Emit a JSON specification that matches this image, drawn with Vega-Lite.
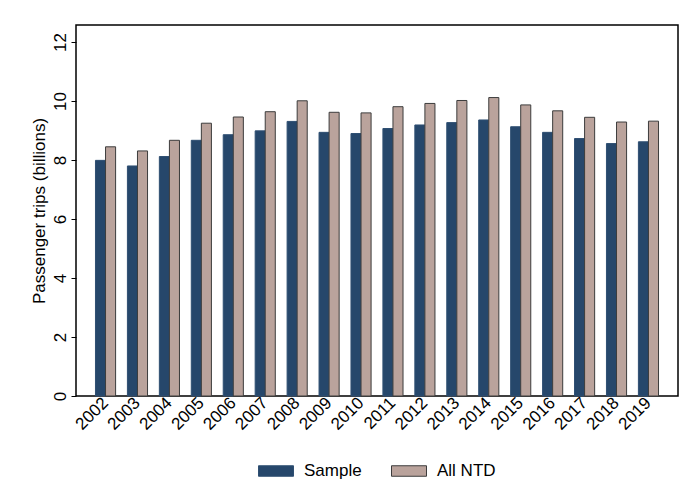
{
  "$schema": "https://vega.github.io/schema/vega-lite/v6.json",
  "width": 602,
  "height": 371,
  "autosize": "none",
  "padding": {"left": 76, "top": 25, "right": 5, "bottom": 108},
  "background": "white",
  "data": {
    "values": [
      {"year": "2002", "series": "Sample", "trips": 7.99},
      {"year": "2002", "series": "All NTD", "trips": 8.45},
      {"year": "2003", "series": "Sample", "trips": 7.80},
      {"year": "2003", "series": "All NTD", "trips": 8.31},
      {"year": "2004", "series": "Sample", "trips": 8.12},
      {"year": "2004", "series": "All NTD", "trips": 8.67},
      {"year": "2005", "series": "Sample", "trips": 8.67},
      {"year": "2005", "series": "All NTD", "trips": 9.25},
      {"year": "2006", "series": "Sample", "trips": 8.86},
      {"year": "2006", "series": "All NTD", "trips": 9.46},
      {"year": "2007", "series": "Sample", "trips": 8.99},
      {"year": "2007", "series": "All NTD", "trips": 9.64},
      {"year": "2008", "series": "Sample", "trips": 9.31},
      {"year": "2008", "series": "All NTD", "trips": 10.01},
      {"year": "2009", "series": "Sample", "trips": 8.94},
      {"year": "2009", "series": "All NTD", "trips": 9.62},
      {"year": "2010", "series": "Sample", "trips": 8.90},
      {"year": "2010", "series": "All NTD", "trips": 9.60},
      {"year": "2011", "series": "Sample", "trips": 9.07},
      {"year": "2011", "series": "All NTD", "trips": 9.81},
      {"year": "2012", "series": "Sample", "trips": 9.19},
      {"year": "2012", "series": "All NTD", "trips": 9.92},
      {"year": "2013", "series": "Sample", "trips": 9.27},
      {"year": "2013", "series": "All NTD", "trips": 10.02},
      {"year": "2014", "series": "Sample", "trips": 9.36},
      {"year": "2014", "series": "All NTD", "trips": 10.12},
      {"year": "2015", "series": "Sample", "trips": 9.13},
      {"year": "2015", "series": "All NTD", "trips": 9.87},
      {"year": "2016", "series": "Sample", "trips": 8.94},
      {"year": "2016", "series": "All NTD", "trips": 9.67},
      {"year": "2017", "series": "Sample", "trips": 8.73},
      {"year": "2017", "series": "All NTD", "trips": 9.45},
      {"year": "2018", "series": "Sample", "trips": 8.56},
      {"year": "2018", "series": "All NTD", "trips": 9.29},
      {"year": "2019", "series": "Sample", "trips": 8.62},
      {"year": "2019", "series": "All NTD", "trips": 9.32}
    ]
  },
  "mark": {"type": "bar", "strokeWidth": 1},
  "encoding": {
    "x": {
      "field": "year",
      "type": "nominal",
      "scale": {"paddingInner": 0.37, "paddingOuter": 0.61},
      "axis": {
        "title": null,
        "labelAngle": -45,
        "labelAlign": "right",
        "labelBaseline": "middle",
        "labelPadding": 4,
        "ticks": false,
        "domain": false
      }
    },
    "xOffset": {
      "field": "series",
      "type": "nominal",
      "sort": ["Sample", "All NTD"],
      "scale": {"paddingInner": 0, "paddingOuter": 0}
    },
    "y": {
      "field": "trips",
      "type": "quantitative",
      "scale": {"domain": [0, 12.58], "nice": false},
      "axis": {
        "title": "Passenger trips (billions)",
        "values": [0, 2, 4, 6, 8, 10, 12],
        "labelAngle": -90,
        "labelAlign": "center",
        "labelBaseline": "alphabetic",
        "labelPadding": 6,
        "tickSize": 5,
        "titlePadding": 3,
        "grid": false,
        "domain": false
      }
    },
    "fill": {
      "field": "series",
      "type": "nominal",
      "sort": ["Sample", "All NTD"],
      "scale": {"domain": ["Sample", "All NTD"], "range": ["#26476b", "#baa39c"]},
      "legend": {
        "title": null,
        "orient": "none",
        "direction": "horizontal",
        "legendX": 182,
        "legendY": 428,
        "symbolType": "M-1,-0.3L1,-0.3L1,0.3L-1,0.3Z",
        "symbolSize": 1225,
        "symbolStrokeWidth": 1,
        "symbolOpacity": 1,
        "labelOffset": 10,
        "columnPadding": 27
      }
    },
    "stroke": {
      "field": "series",
      "type": "nominal",
      "sort": ["Sample", "All NTD"],
      "scale": {"domain": ["Sample", "All NTD"], "range": ["#2f4f72", "#3c3c3c"]},
      "legend": null
    }
  },
  "config": {
    "font": "Liberation Sans",
    "view": {"stroke": "black", "strokeWidth": 1.5},
    "axis": {
      "labelFont": "Liberation Sans",
      "titleFont": "Liberation Sans",
      "labelFontSize": 17,
      "titleFontSize": 17,
      "titleFontWeight": "normal",
      "labelColor": "black",
      "titleColor": "black",
      "tickColor": "black"
    },
    "legend": {
      "labelFont": "Liberation Sans",
      "labelFontSize": 17,
      "labelColor": "black"
    }
  }
}
